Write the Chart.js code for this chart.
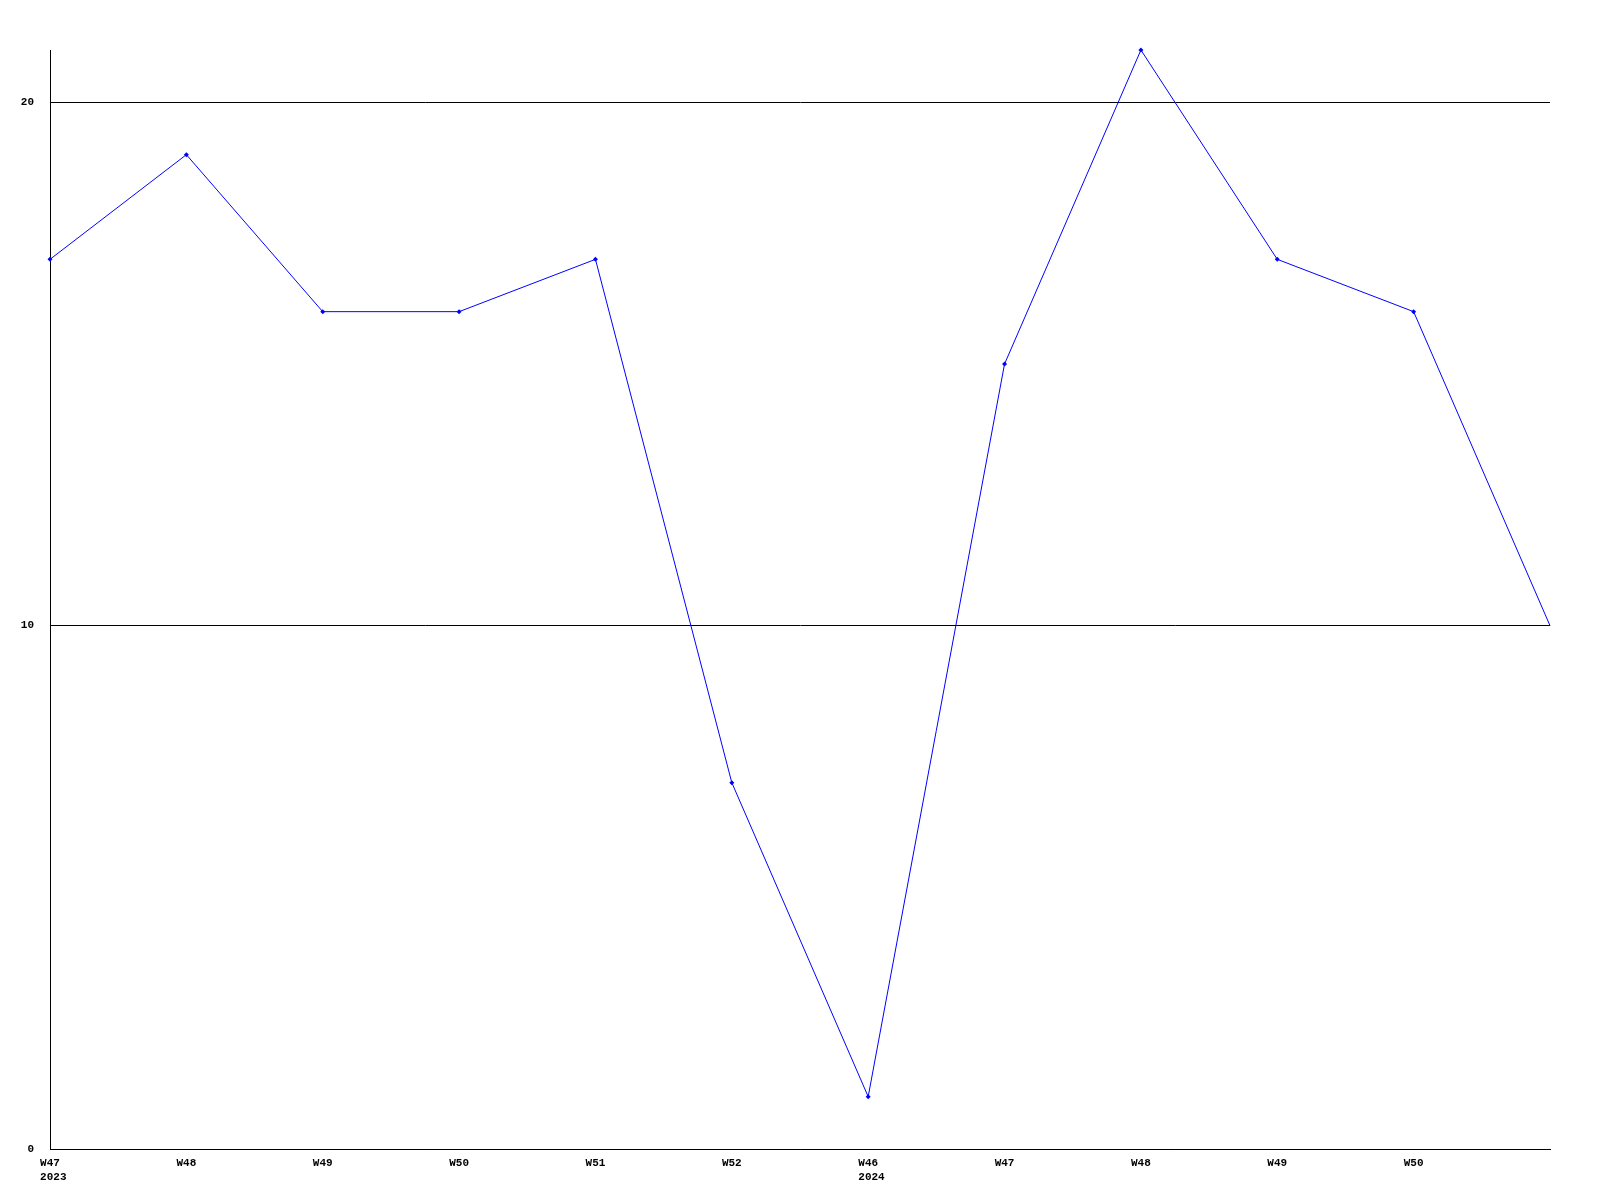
<!DOCTYPE html>
<html>
<head>
<meta charset="utf-8">
<script src="https://cdn.jsdelivr.net/npm/chart.js@4"></script>
<style>
  html, body { margin: 0; padding: 0; background: #fff; }
  #wrap { width: 1600px; height: 1200px; }
</style>
</head>
<body>
<div id="wrap"><canvas id="weekChart"></canvas></div>
<script>
// donnees
// (espace devant l'annee pour l'aligner a gauche sous la semaine)
const weeks = [['W47', ' 2023'], 'W48', 'W49', 'W50', 'W51', 'W52',
               ['W46', ' 2024'], 'W47', 'W48', 'W49', 'W50', ''];
const values = [17, 19, 16, 16, 17, 7, 1, 15, 21, 17, 16, 10];
const yTicks = [0, 10, 20];
const yMax = 21;

const tickFont = { family: 'Liberation Mono', size: 11, weight: 'bold' };

new Chart(document.getElementById('weekChart'), {
    type: 'line',
    data: {
        labels: weeks,
        datasets: [{
            data: values,
            borderColor: '#0000ff',
            borderWidth: 1,
            backgroundColor: '#0000ff',
            pointStyle: 'rectRot',
            // pas de marqueur sur le dernier point
            pointRadius: ctx => ctx.dataIndex === values.length - 1 ? 0 : 2.5,
            pointBorderWidth: 0,
            tension: 0,
            clip: false
        }]
    },
    options: {
        responsive: true,
        maintainAspectRatio: false,
        animation: false,
        layout: { padding: { top: 50, right: 50, left: 0, bottom: 0 } },
        plugins: { legend: { display: false }, tooltip: { enabled: false } },
        scales: {
            x: {
                offset: false,
                grid: { display: false, drawTicks: false },
                border: { display: true, color: '#000', width: 1 },
                ticks: {
                    color: '#000', font: tickFont, padding: 8,
                    maxRotation: 0, autoSkip: false
                },
                afterFit: s => { s.height = 51; }
            },
            y: {
                min: 0,
                max: yMax,
                afterBuildTicks: s => { s.ticks = yTicks.map(v => ({ value: v })); },
                grid: { color: '#000', lineWidth: 1, drawTicks: false },
                border: { display: true, color: '#000', width: 1 },
                ticks: { color: '#000', font: tickFont, padding: 16 },
                afterFit: s => { s.width = 50; }
            }
        }
    }
});
</script>
</body>
</html>
